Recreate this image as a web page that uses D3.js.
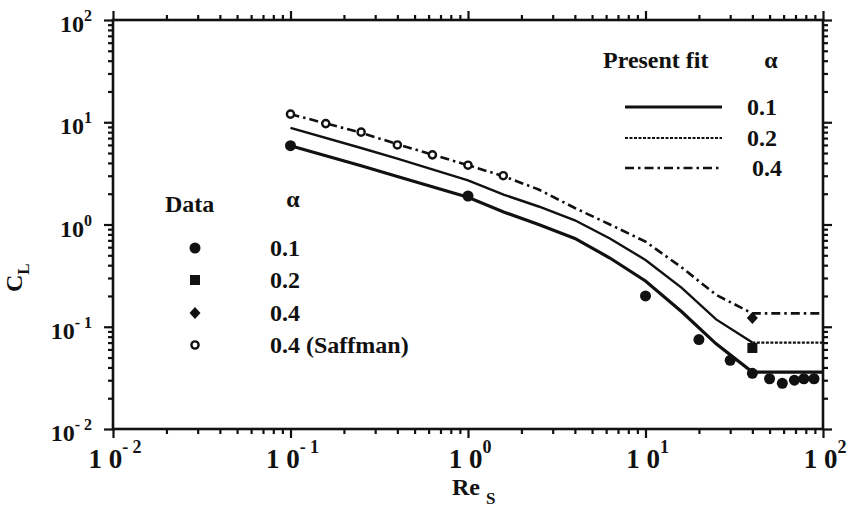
<!DOCTYPE html>
<html>
<head>
<meta charset="utf-8">
<script src="https://cdn.jsdelivr.net/npm/d3@7"></script>
<style>
body { margin: 0; background: #fff; }
svg text { font-family: "Liberation Serif", "Times New Roman", serif; font-weight: bold; fill: #111; }
</style>
</head>
<body>
<svg id="chart" width="849" height="513"></svg>
<script>
// fitted curves (Re_s, C_L)
var fitRe = [0.1, 0.25, 0.4, 1, 1.6, 2.5, 4, 6.3, 10, 16, 25, 40, 100];
var fit01 = [5.9, 3.75, 2.95, 1.85, 1.32, 1.0, 0.73, 0.47, 0.28, 0.14, 0.068, 0.036, 0.036];
var fit02 = [8.8, 5.6, 4.4, 2.7, 1.95, 1.5, 1.1, 0.73, 0.45, 0.24, 0.118, 0.07, 0.07];
var fit04 = [12, 7.9, 6.1, 3.8, 2.95, 2.2, 1.45, 1.0, 0.68, 0.38, 0.205, 0.135, 0.135];

// data points
var data01Re = [0.1, 1, 10, 20, 30, 40, 50, 59, 69, 78, 89];
var data01 = [5.9, 1.9, 0.2, 0.075, 0.047, 0.035, 0.031, 0.028, 0.03, 0.031, 0.031];
var data02Re = [40];
var data02 = [0.062];
var data04Re = [40];
var data04 = [0.122];
var saffRe = [0.1, 0.158, 0.25, 0.4, 0.63, 1, 1.58];
var saff = [12, 9.7, 8, 6, 4.8, 3.8, 3];

var majorTicks = [0.01, 0.1, 1, 10, 100];
var tickExp = ['-2', '-1', '0', '1', '2'];

var margin = {left: 113, right: 823, top: 20, bottom: 429};

var svg = d3.select('#chart');

var x = d3.scaleLog().domain([0.01, 100]).range([margin.left, margin.right]);
var y = d3.scaleLog().domain([0.01, 100]).range([margin.bottom, margin.top]);

var minorTicks = [];
for (var i = 0; i < 4; i++) {
    for (var k = 2; k <= 9; k++) {
        minorTicks.push(majorTicks[i] * k);
    }
}

function drawAxis(axisFn, scale, transform) {
    var gMaj = svg.append('g').attr('transform', transform)
        .call(axisFn(scale).tickValues(majorTicks).tickSize(9).tickFormat(''));
    var gMin = svg.append('g').attr('transform', transform)
        .call(axisFn(scale).tickValues(minorTicks).tickSize(5).tickFormat(''));
    [gMaj, gMin].forEach(function (g) {
        g.select('.domain').remove();
        g.selectAll('line').attr('stroke', '#111').attr('stroke-width', 2.2);
    });
}

drawAxis(d3.axisBottom, x, 'translate(0,' + margin.bottom + ')');
drawAxis(d3.axisTop, x, 'translate(0,' + margin.top + ')');
drawAxis(d3.axisLeft, y, 'translate(' + margin.left + ',0)');
drawAxis(d3.axisRight, y, 'translate(' + margin.right + ',0)');

svg.append('rect')
    .attr('x', margin.left).attr('y', margin.top)
    .attr('width', margin.right - margin.left).attr('height', margin.bottom - margin.top)
    .attr('fill', 'none').attr('stroke', '#111').attr('stroke-width', 2.6);

// y tick labels
majorTicks.forEach(function (v, i) {
    var t = svg.append('text')
        .attr('x', 92).attr('y', y(v) + 12)
        .attr('text-anchor', 'end')
        .style('font-size', '24px');
    t.append('tspan').text('10');
    t.append('tspan').attr('dy', -11).style('font-size', '16px')
        .text(tickExp[i].replace('-', '- '));
});

// x tick labels
majorTicks.forEach(function (v, i) {
    var t = svg.append('text')
        .attr('x', x(v) + 2).attr('y', margin.bottom + 39)
        .attr('text-anchor', 'middle')
        .style('font-size', '27px');
    t.append('tspan').text('1 0');
    t.append('tspan').attr('dy', -15).style('font-size', '18px')
        .text(tickExp[i].replace('-', '- '));
});

// axis titles
var xt = svg.append('text').attr('x', 452).attr('y', 495).style('font-size', '24px');
xt.append('tspan').text('Re');
xt.append('tspan').attr('dx', 6).attr('dy', 9).style('font-size', '17px').text('S');

var yt = svg.append('text')
    .attr('transform', 'translate(22,292) rotate(-90)')
    .style('font-size', '24px');
yt.append('tspan').text('C');
yt.append('tspan').attr('dy', 7).style('font-size', '17px').text('L');

// fitted lines
var line = d3.line()
    .x(function (d) { return x(d[0]); })
    .y(function (d) { return y(d[1]); });

function pairs(xs, ys) {
    return xs.map(function (v, i) { return [v, ys[i]]; });
}

var f01 = pairs(fitRe, fit01);
var f02 = pairs(fitRe, fit02);
var f04 = pairs(fitRe, fit04);

svg.append('path').datum(f01).attr('d', line)
    .attr('fill', 'none').attr('stroke', '#111').attr('stroke-width', 3.2);
svg.append('path').datum(f02.slice(0, 12)).attr('d', line)
    .attr('fill', 'none').attr('stroke', '#111').attr('stroke-width', 2.4);
svg.append('path').datum(f02.slice(11)).attr('d', line)
    .attr('fill', 'none').attr('stroke', '#111').attr('stroke-width', 2.2)
    .attr('stroke-dasharray', '3,1.5');
svg.append('path').datum(f04).attr('d', line)
    .attr('fill', 'none').attr('stroke', '#111').attr('stroke-width', 2.6)
    .attr('stroke-dasharray', '9,4,2.5,4');

// markers
function dot(cx, cy) {
    svg.append('circle').attr('cx', cx).attr('cy', cy).attr('r', 5.5).attr('fill', '#111');
}
function square(cx, cy) {
    svg.append('rect').attr('x', cx - 5).attr('y', cy - 5).attr('width', 10).attr('height', 10).attr('fill', '#111');
}
function diamond(cx, cy) {
    svg.append('path').attr('d', 'M' + cx + ',' + (cy - 6) + 'L' + (cx + 5.5) + ',' + cy + 'L' + cx + ',' + (cy + 6) + 'L' + (cx - 5.5) + ',' + cy + 'Z')
        .attr('fill', '#111');
}
function ring(cx, cy) {
    svg.append('circle').attr('cx', cx).attr('cy', cy).attr('r', 3.6)
        .attr('fill', '#fff').attr('stroke', '#111').attr('stroke-width', 2.4);
}

data01Re.forEach(function (v, i) { dot(x(v), y(data01[i])); });
data02Re.forEach(function (v, i) { square(x(v), y(data02[i])); });
data04Re.forEach(function (v, i) { diamond(x(v), y(data04[i])); });
saffRe.forEach(function (v, i) { ring(x(v), y(saff[i])); });

// legend: present fit
svg.append('text').attr('x', 603).attr('y', 68).style('font-size', '24px').text('Present fit');
svg.append('text').attr('x', 771).attr('y', 68).attr('text-anchor', 'middle').style('font-size', '24px').text('\u03b1');
var fitLegend = [
    {y: 107, w: 3.2, dash: null, label: '0.1', lx: 747},
    {y: 138, w: 2.2, dash: '3,1.5', label: '0.2', lx: 747},
    {y: 168, w: 2.6, dash: '9,4,2.5,4', label: '0.4', lx: 752}
];
fitLegend.forEach(function (d) {
    var l = svg.append('line')
        .attr('x1', 625).attr('x2', 722).attr('y1', d.y).attr('y2', d.y)
        .attr('stroke', '#111').attr('stroke-width', d.w);
    if (d.dash) l.attr('stroke-dasharray', d.dash);
    svg.append('text').attr('x', d.lx).attr('y', d.y + 8).style('font-size', '24px').text(d.label);
});

// legend: data
svg.append('text').attr('x', 165).attr('y', 212).style('font-size', '24px').text('Data');
svg.append('text').attr('x', 293).attr('y', 207).attr('text-anchor', 'middle').style('font-size', '24px').text('\u03b1');
var rows = [248, 280, 313, 345];
dot(195, rows[0]);
square(195, rows[1]);
diamond(195, rows[2]);
ring(195, rows[3]);
['0.1', '0.2', '0.4', '0.4 (Saffman)'].forEach(function (s, i) {
    svg.append('text').attr('x', 270).attr('y', rows[i] + 8).style('font-size', '24px').text(s);
});
</script>
</body>
</html>
